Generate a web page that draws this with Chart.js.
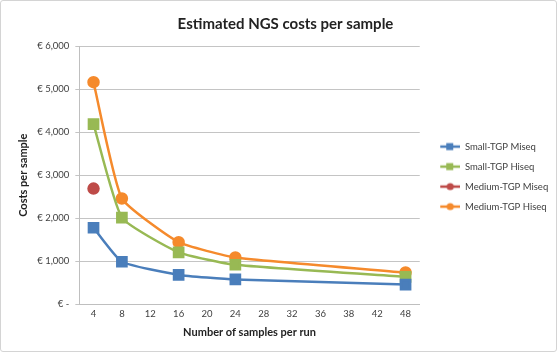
<!DOCTYPE html>
<html>
<head>
<meta charset="utf-8">
<script src="https://cdn.jsdelivr.net/npm/chart.js@4"></script>
<style>
  html, body { margin: 0; padding: 0; background: #fff; }
  #wrap { position: relative; width: 557px; height: 352px; box-sizing: border-box; border: 1px solid #d4d4d4; border-radius: 3px; }
</style>
</head>
<body>
<div id="wrap"><canvas id="costChart"></canvas></div>
<script>
// samples per run (category axis, as in the original sheet)
const runSizes = ['4', '8', '12', '16', '20', '24', '28', '32', '36', '38', '42', '48'];

// costs per sample in euro, null where no value was given
const smallMiseq  = [1780, 990, null, 685, null, 580, null, null, null, null, null, 460];
const smallHiseq  = [4185, 2015, null, 1210, null, 920, null, null, null, null, null, 640];
const mediumMiseq = [2690, null, null, null, null, null, null, null, null, null, null, null];
const mediumHiseq = [5160, 2460, null, 1445, null, 1090, null, null, null, null, null, 740];

const yTicks = [0, 1000, 2000, 3000, 4000, 5000, 6000];

// line + marker swatch like the spreadsheet legend
function legendIcon(color, style) {
    const c = document.createElement('canvas');
    c.width = 30; c.height = 10;
    const g = c.getContext('2d');
    g.strokeStyle = color;
    g.fillStyle = color;
    g.lineWidth = 2.5;
    g.beginPath(); g.moveTo(10, 5); g.lineTo(30, 5); g.stroke();
    if (style === 'rect') {
        g.fillRect(16, 1.5, 7, 7);
    } else {
        g.beginPath(); g.arc(20, 5, 3.6, 0, Math.PI * 2); g.fill();
    }
    return c;
}

function series(label, data, color, style) {
    return {
        label: label,
        data: data,
        borderColor: color,
        backgroundColor: color,
        borderWidth: 2.5,
        pointStyle: style,
        pointRadius: style === 'rect' ? 6.5 : 5,
        pointHoverRadius: style === 'rect' ? 6.5 : 5,
        spanGaps: true,
        tension: 0.15,
        icon: legendIcon(color, style)
    };
}

const ctx = document.getElementById('costChart').getContext('2d');

new Chart(ctx, {
    type: 'line',
    data: {
        labels: runSizes,
        datasets: [
            series('Small-TGP Miseq', smallMiseq, '#4a7ebb', 'rect'),
            series('Small-TGP Hiseq', smallHiseq, '#98b954', 'rect'),
            series('Medium-TGP Miseq', mediumMiseq, '#be4b48', 'circle'),
            series('Medium-TGP Hiseq', mediumHiseq, '#f58a2c', 'circle')
        ]
    },
    options: {
        responsive: true,
        maintainAspectRatio: false,
        animation: false,
        layout: {
            padding: { left: 16, right: 2, top: 4, bottom: 12 }
        },
        scales: {
            x: {
                offset: true,
                grid: { display: false, drawTicks: false },
                border: { display: true, color: '#bfbfbf', width: 1 },
                ticks: { color: '#404040', font: { family: 'Lato', size: 9.5 }, padding: 4 },
                title: {
                    display: true,
                    text: 'Number of samples per run',
                    color: '#222',
                    font: { family: 'Lato', size: 11, weight: 'bold' },
                    padding: { top: 2, bottom: 0 }
                }
            },
            y: {
                min: 0,
                max: 6000,
                afterBuildTicks: axis => { axis.ticks = yTicks.map(v => ({ value: v })); },
                grid: { color: '#c4c4c4', tickLength: 4 },
                border: { display: true, color: '#bfbfbf' },
                ticks: {
                    color: '#404040',
                    font: { family: 'Lato', size: 9.5 },
                    padding: 6,
                    callback: v => v === 0 ? '€ -' : '€ ' + v.toLocaleString('en-US')
                },
                title: {
                    display: true,
                    text: 'Costs per sample',
                    color: '#222',
                    font: { family: 'Lato', size: 11, weight: 'bold' },
                    padding: { top: 0, bottom: 1 }
                }
            }
        },
        plugins: {
            title: {
                display: true,
                text: 'Estimated NGS costs per sample',
                color: '#222',
                font: { family: 'Lato', size: 15, weight: 'bold' },
                padding: { top: 10, bottom: 13 }
            },
            legend: {
                position: 'right',
                title: { display: true, text: ' ', font: { size: 1 }, padding: { top: 8, bottom: 0 } },
                labels: {
                    usePointStyle: true,
                    pointStyleWidth: 30,
                    color: '#404040',
                    font: { family: 'Lato', size: 9.5 },
                    padding: 10.5,
                    generateLabels: chart => chart.data.datasets.map((ds, i) => ({
                        text: ds.label,
                        pointStyle: ds.icon,
                        fillStyle: ds.borderColor,
                        strokeStyle: ds.borderColor,
                        lineWidth: 0,
                        fontColor: '#404040',
                        hidden: false,
                        datasetIndex: i
                    }))
                }
            },
            tooltip: { enabled: false }
        }
    }
});
</script>
</body>
</html>
